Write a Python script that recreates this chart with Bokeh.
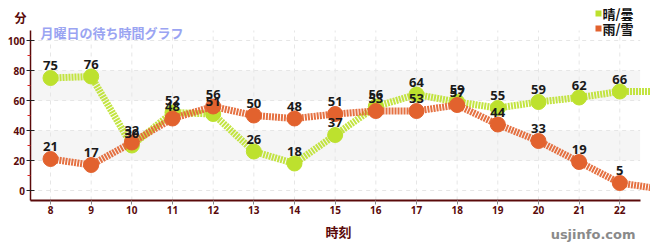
from bokeh.plotting import figure
from bokeh.models import FixedTicker, Label, BoxAnnotation
from bokeh.core.properties import value
from bokeh.embed import file_html
from bokeh.resources import INLINE

hours = [8, 9, 10, 11, 12, 13, 14, 15, 16, 17, 18, 19, 20, 21, 22]
sunny = [75, 76, 30, 52, 51, 26, 18, 37, 56, 64, 59, 55, 59, 62, 66]
rainy = [21, 17, 32, 48, 56, 50, 48, 51, 53, 53, 57, 44, 33, 19, 5]
next_hour = 23
sunny_next = 66
rainy_next = 1
y_ticks = [0, 20, 40, 60, 80, 100]
y_minor = [10, 30, 50, 70, 90]
bands = [(20, 40), (60, 80)]
series_names = ["晴/曇", "雨/雪"]
title_unit = "分"
subtitle = "月曜日の待ち時間グラフ"
x_title = "時刻"
watermark = "usjinfo.com"

X_LO, X_HI = 7.5, 22.5
Y_LO, Y_HI = -6.67, 106.67

GREEN = "#bde12e"
ORANGE = "#e2622e"
MAROON = "#5a0a0a"
CJK = "Noto Sans CJK JP"

p = figure(width=650, height=250, x_range=(6.77, 22.755), y_range=(-40, 126.67),
           min_border=0, output_backend="svg", toolbar_location=None)
p.outline_line_color = None
p.background_fill_color = "white"
p.xgrid.visible = False
p.ygrid.visible = False

for lo, hi in bands:
    p.add_layout(BoxAnnotation(bottom=lo, top=hi, left=X_LO, right=X_HI,
                               fill_color="#f5f5f5", fill_alpha=1, line_color=None, level="underlay"))

p.segment(x0=hours, x1=hours, y0=[Y_LO] * len(hours), y1=[Y_HI] * len(hours),
          line_color="#e6e6e6", line_dash="4 4", line_width=1)
p.segment(x0=[X_LO] * len(y_ticks), x1=[X_HI] * len(y_ticks), y0=y_ticks, y1=y_ticks,
          line_color="#e6e6e6", line_dash="4 4", line_width=1)

# lines
p.line(hours + [next_hour], sunny + [sunny_next], line_color=GREEN, line_width=7,
       line_dash="2 1", line_alpha=0.9)
p.scatter(hours, sunny, size=15, fill_color=GREEN, line_color=GREEN)
p.line(hours + [next_hour], rainy + [rainy_next], line_color=ORANGE, line_width=7,
       line_dash="2 1", line_alpha=0.9)
p.scatter(hours, rainy, size=15, fill_color=ORANGE, line_color=ORANGE)

for vals in (sunny, rainy):
    p.text(hours, vals, text=[str(v) for v in vals], text_align="center", text_baseline="bottom",
           y_offset=-8, text_font=value("Noto Sans"), text_font_size="13px", text_font_style="bold",
           text_color="#1a1a1a")

# axes
xa = p.xaxis[0]
xa.fixed_location = Y_LO
xa.ticker = FixedTicker(ticks=hours)
xa.bounds = (X_LO, X_HI)
xa.axis_line_color = MAROON
xa.axis_line_width = 2
xa.major_tick_line_color = "#888888"
xa.major_tick_in = 0
xa.major_tick_out = 4
xa.minor_tick_line_color = None
xa.major_label_text_color = MAROON
xa.major_label_text_font = "Noto Sans"
xa.major_label_text_font_size = "10px"
xa.major_label_text_font_style = "bold"
xa.major_label_standoff = 1

ya = p.yaxis[0]
ya.fixed_location = 7.52
ya.ticker = FixedTicker(ticks=y_ticks, minor_ticks=y_minor)
ya.bounds = (Y_LO, Y_HI)
ya.axis_line_color = MAROON
ya.axis_line_width = 1.5
ya.major_tick_line_color = "#222222"
ya.major_tick_in = 4
ya.major_tick_out = 4
ya.minor_tick_line_color = "#dd2222"
ya.minor_tick_in = 0
ya.minor_tick_out = 3
ya.major_label_text_color = MAROON
ya.major_label_text_font = "Noto Sans"
ya.major_label_text_font_size = "10px"
ya.major_label_text_font_style = "bold"
ya.major_label_standoff = 2

# texts in screen coordinates (frame covers the whole canvas)
p.add_layout(Label(x=20, y=233, x_units="screen", y_units="screen", text=title_unit,
                   text_font=CJK, text_font_size="12px", text_font_style="bold",
                   text_color=MAROON, text_align="center", text_baseline="middle"))
p.add_layout(Label(x=40, y=218, x_units="screen", y_units="screen", text=subtitle,
                   text_font=CJK, text_font_size="13px", text_font_style="bold",
                   text_color="#9aa4f2", text_align="left", text_baseline="middle"))
p.add_layout(Label(x=325, y=19, x_units="screen", y_units="screen", text=x_title,
                   text_font=CJK, text_font_size="13px", text_font_style="bold",
                   text_color=MAROON, text_align="left", text_baseline="middle"))
colors = [GREEN, ORANGE]
for i, name in enumerate(series_names):
    yy = 237 - 15 * i
    p.add_layout(BoxAnnotation(left=595, right=601, bottom=yy - 3, top=yy + 3,
                               left_units="screen", right_units="screen",
                               bottom_units="screen", top_units="screen",
                               fill_color=colors[i], fill_alpha=1, line_color=None))
    p.add_layout(Label(x=602, y=yy, x_units="screen", y_units="screen", text=name,
                       text_font=CJK, text_font_size="13px", text_font_style="bold",
                       text_color="#111111", text_align="left", text_baseline="middle"))
p.add_layout(Label(x=635, y=16, x_units="screen", y_units="screen", text=watermark,
                   text_font="DejaVu Sans", text_font_size="13px", text_font_style="bold",
                   text_color="#8a8a8a", text_align="right", text_baseline="middle"))

open("out.html", "w").write(file_html(p, INLINE))
